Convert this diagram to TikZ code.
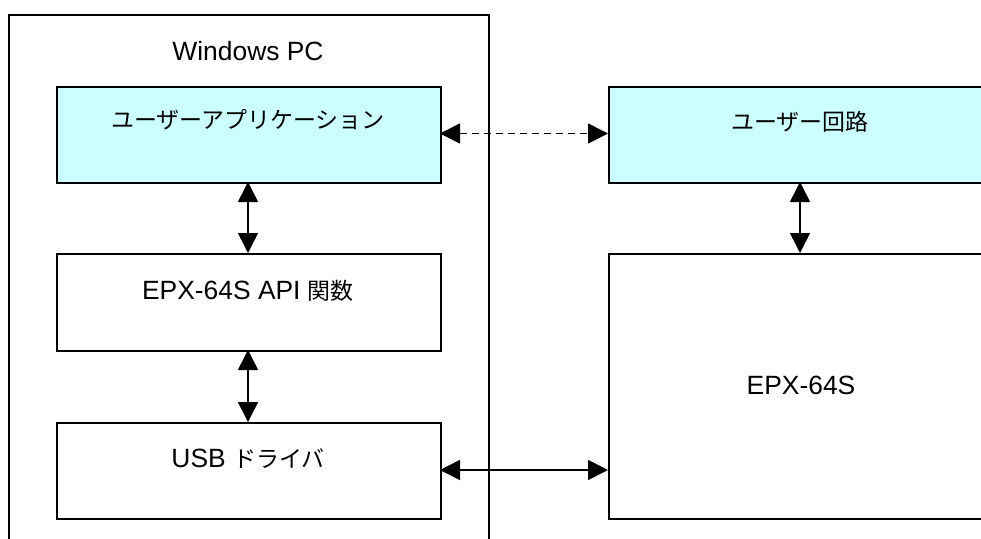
\documentclass[tikz,border=0pt]{standalone}
\usepackage{fontspec}
\setmainfont{Liberation Sans}
\newfontfamily\jp[Scale=0.87]{Noto Sans CJK JP}
\usetikzlibrary{arrows.meta}
\definecolor{boxcyan}{HTML}{CCFFFF}
\tikzset{
  box/.style={draw=black, line width=1.6pt, rectangle, inner sep=0pt, anchor=north west},
  cyanbox/.style={box, fill=boxcyan},
  lbl/.style={inner sep=0pt, font=\fontsize{26.4}{30}\selectfont},
  conn/.style={line width=1.6pt, {Triangle[length=20pt,width=20pt]}-{Triangle[length=20pt,width=20pt]}},
  dashconn/.style={conn, dash pattern=on 7pt off 5pt}
}
\begin{document}
\begin{tikzpicture}[x=1pt,y=-1pt]
\clip (0,0) rectangle (981,538);
\fill[white] (0,0) rectangle (981,538);
% Windows PC outer box
\node[box, minimum width=480pt, minimum height=560pt] (pc) at (8,14) {};
\node[lbl, anchor=base] (pctext) at (248,60) {Windows PC};
% left column
\node[cyanbox, minimum width=384pt, minimum height=96pt] (app) at (56,86) {};
\node[lbl] (apptext) at (248,120) {\jp ユーザーアプリケーション};
\node[box, minimum width=384pt, minimum height=97pt] (api) at (56,253) {};
\node[lbl, anchor=base] (apitext) at (248,299) {EPX-64S API {\jp 関数}};
\node[box, minimum width=384pt, minimum height=96pt] (usb) at (56,422) {};
\node[lbl, anchor=base] (usbtext) at (248,467) {USB {\jp ドライバ}};
% right column
\node[cyanbox, minimum width=420pt, minimum height=96pt] (circ) at (608,86) {};
\node[lbl] (circtext) at (800,121.5) {\jp ユーザー回路};
\node[box, minimum width=420pt, minimum height=265pt] (epx) at (608,253) {};
\node[lbl, anchor=base] (epxtext) at (801,394) {EPX-64S};
% connectors
\coordinate (a1) at (248,182); \coordinate (a2) at (248,253);
\coordinate (b1) at (248,350); \coordinate (b2) at (248,422);
\coordinate (c1) at (800,182); \coordinate (c2) at (800,253);
\coordinate (d1) at (440,133.5); \coordinate (d2) at (608,133.5);
\coordinate (e1) at (440,470); \coordinate (e2) at (608,470);
\draw[conn] (a1) -- (a2);
\draw[conn] (b1) -- (b2);
\draw[conn] (c1) -- (c2);
\draw[dashconn] (d1) -- (d2);
\draw[conn] (e1) -- (e2);
\end{tikzpicture}
\end{document}
